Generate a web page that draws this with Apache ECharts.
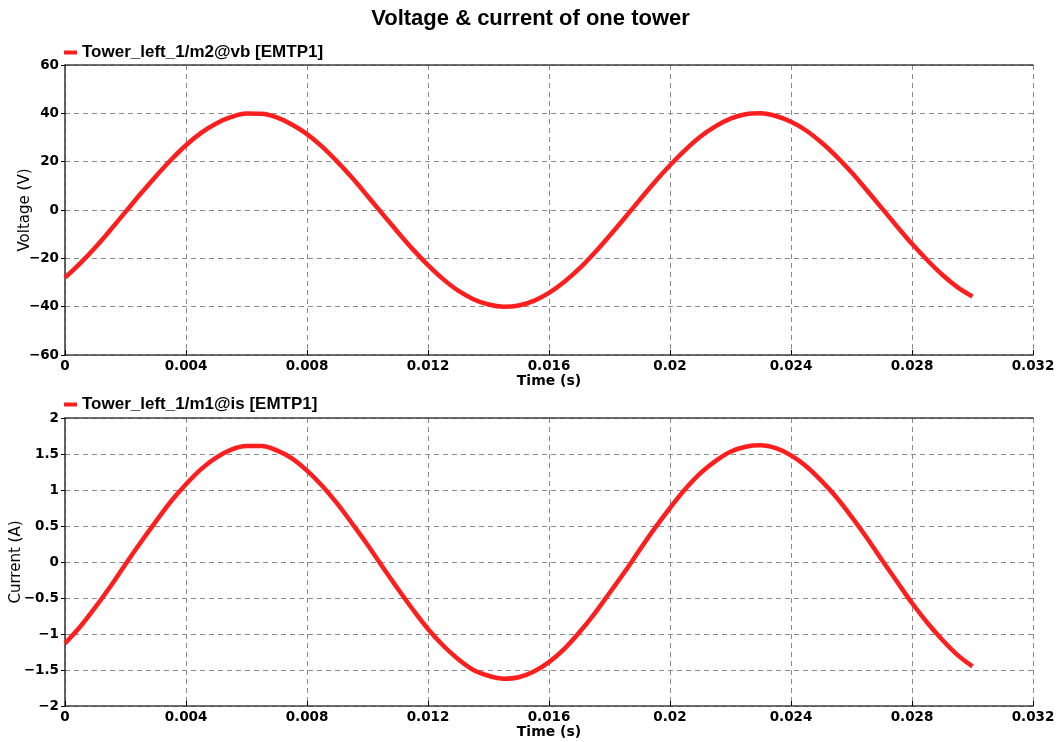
<!DOCTYPE html>
<html><head><meta charset="utf-8">
<script src="https://cdn.jsdelivr.net/npm/echarts@6/dist/echarts.min.js"></script>
<style>html,body{margin:0;padding:0;background:#fff}#c{width:1061px;height:742px}</style>
</head><body><div id="c"></div>
<script>
const timeStep = 0.0005;
const xTicks = [0, 0.004, 0.008, 0.012, 0.016, 0.02, 0.024, 0.028, 0.032];
const voltage = [-28.0,-22.1,-15.5,-8.3,-0.8,6.7,13.9,20.7,26.8,31.9,35.8,38.5,39.9,39.8,38.3,35.4,31.4,26.2,20.0,13.2,5.8,-1.7,-9.1,-16.3,-22.8,-28.6,-33.4,-36.9,-39.1,-40.0,-39.5,-37.6,-34.3,-29.8,-24.3,-17.8,-10.7,-3.3,4.2,11.6,18.5,24.8,30.3,34.6,37.8,39.6,40.0,38.9,36.5,32.9,28.0,22.2,15.6,8.3,0.8,-6.7,-14.0,-20.7,-26.8,-31.9,-35.8];
const current = [-1.13,-0.90,-0.63,-0.34,-0.03,0.27,0.56,0.84,1.08,1.29,1.45,1.56,1.61,1.61,1.55,1.44,1.27,1.06,0.81,0.53,0.24,-0.07,-0.37,-0.66,-0.93,-1.16,-1.35,-1.50,-1.58,-1.62,-1.60,-1.52,-1.39,-1.21,-0.98,-0.72,-0.43,-0.14,0.17,0.47,0.75,1.01,1.23,1.40,1.53,1.60,1.62,1.58,1.48,1.33,1.13,0.90,0.63,0.34,0.03,-0.27,-0.57,-0.84,-1.08,-1.29,-1.45];
const seriesNames = ['Tower_left_1/m2@vb [EMTP1]', 'Tower_left_1/m1@is [EMTP1]'];

const vData = voltage.map((v,i)=>[+(i*timeStep).toFixed(4), v]);
const iData = current.map((v,i)=>[+(i*timeStep).toFixed(4), v]);
const LIB = 'Liberation Sans, Arial, sans-serif';
const DJ = 'DejaVu Sans, sans-serif';
const RED = '#ff1e1e';
const minus = s => String(s).replace('-', '\u2212');
const gridLine = {show:true, lineStyle:{color:'#8a8a8a', type:[5,4], width:1}};
const axisLine = {show:true, onZero:false, lineStyle:{color:'#404040', width:1.6}};
function xAx(gi){
  return {type:'value', gridIndex:gi, min:xTicks[0], max:xTicks[xTicks.length-1], interval:xTicks[1]-xTicks[0],
    name:'Time (s)', nameLocation:'middle', nameGap:19, nameMoveOverlap:false,
    nameTextStyle:{fontFamily:DJ, fontWeight:'bold', fontSize:14, color:'#000'},
    axisLine:axisLine, axisTick:{show:true, inside:true, length:5, lineStyle:{color:'#000'}},
    axisLabel:{fontFamily:DJ, fontWeight:'bold', fontSize:13.5, color:'#000', margin:4,
      formatter:v=>String(parseFloat(v.toFixed(3)))},
    splitLine:gridLine};
}
function xTop(gi){
  return {type:'value', gridIndex:gi, position:'top', min:0, max:0.032,
    axisLine:axisLine, axisTick:{show:false}, axisLabel:{show:false}, splitLine:{show:false}};
}
function yAx(gi,name,min,max,interval,gap){
  return {type:'value', gridIndex:gi, min:min, max:max, interval:interval,
    name:name, nameLocation:'middle', nameGap:gap, nameMoveOverlap:false,
    nameTextStyle:{fontFamily:DJ, fontSize:15, color:'#000'},
    axisLine:axisLine, axisTick:{show:true, length:4, lineStyle:{color:'#000'}},
    axisLabel:{fontFamily:DJ, fontWeight:'bold', fontSize:13.5, color:'#000', margin:6, formatter:minus},
    splitLine:gridLine};
}
const legendText = {fontFamily:LIB, fontWeight:'bold', fontSize:17, color:'#000'};
const chart = echarts.init(document.getElementById('c'));
chart.setOption({
  animation:false,
  backgroundColor:'#fff',
  title:{text:'Voltage & current of one tower', left:'center', top:3,
    textStyle:{fontFamily:LIB, fontWeight:'bold', fontSize:22, color:'#000'}},
  legend:[
    {data:[seriesNames[0]], left:59, top:39, icon:'rect', itemWidth:13, itemHeight:4, itemGap:5, textStyle:legendText},
    {data:[seriesNames[1]], left:59, top:391, icon:'rect', itemWidth:13, itemHeight:4, itemGap:5, textStyle:legendText}
  ],
  grid:[
    {left:65, top:65, width:968, height:290, containLabel:false, outerBoundsMode:'none'},
    {left:65, top:418, width:968, height:288, containLabel:false, outerBoundsMode:'none'}
  ],
  xAxis:[xAx(0), xAx(1), xTop(0), xTop(1)],
  yAxis:[yAx(0,'Voltage (V)',-60,60,20,32), yAx(1,'Current (A)',-2,2,0.5,41)],
  series:[
    {name:seriesNames[0], type:'line', xAxisIndex:0, yAxisIndex:0, data:vData, showSymbol:false, smooth:0.35,
      lineStyle:{color:RED, width:4.5}, itemStyle:{color:RED}},
    {name:seriesNames[1], type:'line', xAxisIndex:1, yAxisIndex:1, data:iData, showSymbol:false, smooth:0.35,
      lineStyle:{color:RED, width:4.5}, itemStyle:{color:RED}}
  ]
});
</script></body></html>
